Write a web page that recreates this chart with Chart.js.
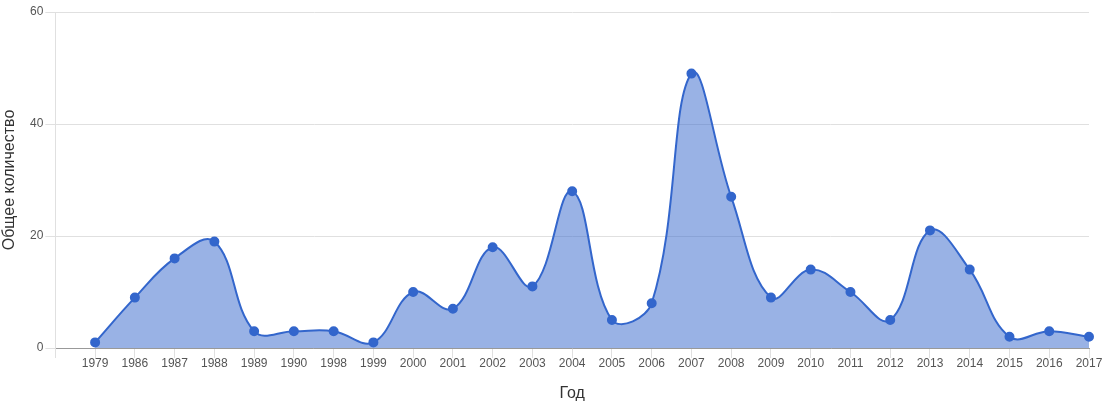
<!DOCTYPE html>
<html>
<head>
<meta charset="utf-8">
<script src="https://cdn.jsdelivr.net/npm/chart.js@4"></script>
<style>
  html, body { margin: 0; padding: 0; background: #fff; }
  #wrap { width: 1118px; height: 404px; }
</style>
</head>
<body>
<div id="wrap"><canvas id="chart"></canvas></div>
<script>
// first slot is empty on purpose, the axis starts one step before 1979
const years = ['', '1979', '1986', '1987', '1988', '1989', '1990', '1998', '1999', '2000', '2001', '2002', '2003',
    '2004', '2005', '2006', '2007', '2008', '2009', '2010', '2011', '2012', '2013', '2014', '2015', '2016', '2017'];
const totals = [null, 1, 9, 16, 19, 3, 3, 3, 1, 10, 7, 18, 11, 28, 5, 8, 49, 27, 9, 14, 10, 5, 21, 14, 2, 3, 2];
const yTicks = [0, 20, 40, 60];

const FONT = 'Arial, "Liberation Sans", sans-serif';
const ctx = document.getElementById('chart').getContext('2d');

new Chart(ctx, {
    type: 'line',
    data: {
        labels: years,
        datasets: [{
            label: 'Общее количество',
            data: totals,
            borderColor: '#3366cc',
            backgroundColor: 'rgba(51, 102, 204, 0.5)',
            pointBackgroundColor: '#3366cc',
            pointBorderColor: '#3366cc',
            pointRadius: 4,
            borderWidth: 2,
            tension: 0.4,
            fill: 'origin'
        }]
    },
    options: {
        responsive: true,
        maintainAspectRatio: false,
        animation: false,
        layout: { padding: { top: 12, right: 29, left: 0, bottom: 0 } },
        plugins: {
            legend: { display: false },
            tooltip: { enabled: false }
        },
        scales: {
            x: {
                offset: false,
                grid: {
                    drawOnChartArea: false,
                    color: '#e0e0e0',
                    tickLength: 10
                },
                border: { color: '#999999' },
                ticks: {
                    color: '#555555',
                    font: { family: FONT, size: 12, lineHeight: 1 },
                    maxRotation: 0,
                    autoSkip: false,
                    padding: 0
                },
                title: {
                    display: true,
                    text: 'Год',
                    color: '#333333',
                    font: { family: FONT, size: 16, lineHeight: 1 },
                    padding: { top: 16, bottom: 2 }
                }
            },
            y: {
                min: 0,
                max: 60,
                afterBuildTicks: axis => { axis.ticks = yTicks.map(v => ({ value: v })); },
                grid: {
                    color: '#e0e0e0',
                    tickLength: 10
                },
                border: { color: '#e0e0e0' },
                ticks: {
                    color: '#555555',
                    font: { family: FONT, size: 12 },
                    padding: 2
                },
                title: {
                    display: true,
                    text: 'Общее количество',
                    color: '#333333',
                    font: { family: FONT, size: 16, lineHeight: 1 },
                    padding: { top: 2, bottom: 10 }
                }
            }
        }
    }
});
</script>
</body>
</html>
